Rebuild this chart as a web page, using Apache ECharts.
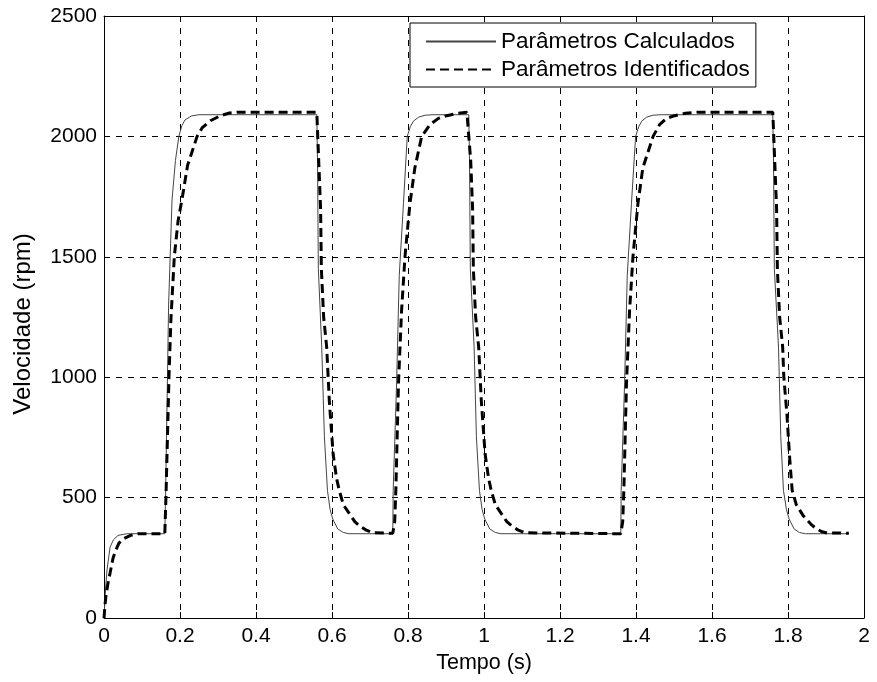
<!DOCTYPE html>
<html>
<head>
<meta charset="utf-8">
<script src="https://cdn.jsdelivr.net/npm/echarts@6/dist/echarts.min.js"></script>
<style>html,body{margin:0;padding:0;background:#fff;}#c{width:877px;height:682px;}</style>
</head>
<body>
<div id="c"></div>
<script>
const seriesNames = ['Parâmetros Calculados', 'Parâmetros Identificados'];
const xTicks = ['0','0.2','0.4','0.6','0.8','1','1.2','1.4','1.6','1.8','2'];
const yTicks = ['0','500','1000','1500','2000','2500'];

// Parâmetros Calculados [tempo (s), velocidade (rpm)]
const calculados = [
  [0,0],[0.004,120],[0.008,200],[0.016,295],[0.025,325],[0.037,343],[0.06,350],[0.16,350],
  [0.162,500],[0.167,1000],[0.170,1300],[0.179,1736],[0.188,1900],[0.197,2000],[0.205,2045],[0.213,2068],[0.23,2085],[0.25,2090],[0.56,2090],
  [0.562,1884],[0.564,1452],[0.573,1125],[0.580,753],[0.588,530],[0.595,450],[0.602,411],[0.615,370],[0.63,355],[0.645,350],[0.76,350],
  [0.761,530],[0.770,976],[0.777,1423],[0.788,1720],[0.798,2000],[0.806,2040],[0.814,2063],[0.828,2080],[0.845,2088],[0.866,2090],[0.96,2090],
  [0.962,1884],[0.964,1452],[0.974,1125],[0.980,753],[0.988,530],[0.995,450],[1.002,411],[1.015,370],[1.03,355],[1.045,350],[1.36,350],
  [1.361,530],[1.370,976],[1.377,1423],[1.388,1720],[1.399,2000],[1.407,2040],[1.415,2063],[1.428,2080],[1.445,2088],[1.466,2090],[1.76,2090],
  [1.762,1884],[1.764,1452],[1.775,1125],[1.781,753],[1.788,530],[1.796,450],[1.803,411],[1.816,370],[1.83,355],[1.846,350],[1.96,350]
];

// Parâmetros Identificados [tempo (s), velocidade (rpm)]
const identificados = [
  [0,0],[0.003,60],[0.005,90],[0.010,140],[0.016,187],[0.024,250],[0.032,285],[0.039,310],[0.05,328],[0.07,343],[0.09,350],[0.16,350],
  [0.163,500],[0.171,1000],[0.176,1237],[0.185,1500],[0.195,1650],[0.205,1736],[0.22,1880],[0.245,2000],[0.258,2035],[0.28,2065],[0.305,2085],[0.33,2097],[0.35,2100],[0.56,2100],
  [0.565,1900],[0.570,1700],[0.572,1450],[0.578,1250],[0.586,1125],[0.593,900],[0.603,680],[0.612,580],[0.619,530],[0.63,470],[0.643,440],[0.66,400],[0.674,381],[0.69,365],[0.708,354],[0.76,352],
  [0.765,400],[0.768,530],[0.775,976],[0.783,1274],[0.792,1500],[0.805,1720],[0.818,1869],[0.836,2000],[0.858,2049],[0.88,2075],[0.902,2086],[0.93,2096],[0.955,2100],[0.96,2100],
  [0.965,1900],[0.970,1700],[0.972,1450],[0.978,1250],[0.986,1125],[0.993,900],[1.003,680],[1.012,580],[1.019,530],[1.03,470],[1.043,440],[1.06,400],[1.074,381],[1.09,365],[1.108,354],[1.36,350],
  [1.365,400],[1.368,530],[1.375,976],[1.383,1274],[1.392,1500],[1.405,1720],[1.418,1869],[1.445,2000],[1.462,2049],[1.48,2075],[1.502,2086],[1.53,2096],[1.56,2100],[1.76,2100],
  [1.765,1900],[1.770,1700],[1.772,1450],[1.778,1250],[1.786,1125],[1.789,1000],[1.797,850],[1.805,650],[1.811,530],[1.822,470],[1.84,425],[1.86,390],[1.875,370],[1.89,358],[1.90,354],[1.96,352]
];

const FONT = 'Liberation Sans, Arial, Helvetica, sans-serif';
const chart = echarts.init(document.getElementById('c'), null, {renderer: 'canvas'});
const gridLine = {show: true, lineStyle: {color: '#000', width: 1, type: [6, 6]}};
chart.setOption({
  animation: false,
  backgroundColor: '#fff',
  grid: {left: 104, right: 13, top: 16, bottom: 64, containLabel: false},
  legend: {
    show: true,
    orient: 'vertical',
    left: 410, top: 23,
    backgroundColor: '#fff',
    borderColor: '#000', borderWidth: 1, borderRadius: 0,
    padding: [7, 6, 6, 15],
    itemGap: 5,
    itemWidth: 70, itemHeight: 20,
    itemStyle: {opacity: 0},
    textStyle: {fontFamily: FONT, fontSize: 22.5, color: '#000'},
    data: seriesNames
  },
  xAxis: [{
    type: 'value', min: 0, max: 2, interval: 0.2,
    axisLine: {show: true, onZero: false, lineStyle: {color: '#000', width: 1}},
    axisTick: {show: true, inside: true, length: 6, lineStyle: {color: '#000'}},
    axisLabel: {fontFamily: FONT, fontSize: 21, color: '#000', margin: 8,
      formatter: function (v) { return xTicks[Math.round(v / 0.2)]; }},
    splitLine: gridLine,
    name: 'Tempo (s)', nameLocation: 'middle', nameGap: 34,
    nameTextStyle: {fontFamily: FONT, fontSize: 21.5, color: '#000'}
  }, {
    type: 'value', min: 0, max: 2, interval: 0.2, position: 'top',
    axisLine: {show: true, onZero: false, lineStyle: {color: '#000', width: 1}},
    axisTick: {show: true, inside: true, length: 6, lineStyle: {color: '#000'}},
    axisLabel: {show: false}, splitLine: {show: false}
  }],
  yAxis: [{
    type: 'value', min: 0, max: 2500, interval: 500,
    axisLine: {show: true, onZero: false, lineStyle: {color: '#000', width: 1}},
    axisTick: {show: true, inside: true, length: 6, lineStyle: {color: '#000'}},
    axisLabel: {fontFamily: FONT, fontSize: 21, color: '#000', margin: 7,
      formatter: function (v) { return yTicks[Math.round(v / 500)]; }},
    splitLine: gridLine,
    name: 'Velocidade (rpm)', nameLocation: 'middle', nameGap: 69, nameRotate: 90,
    nameTextStyle: {fontFamily: FONT, fontSize: 24, color: '#000', padding: [0, 14, 0, 0]}
  }, {
    type: 'value', min: 0, max: 2500, interval: 500, position: 'right',
    axisLine: {show: true, onZero: false, lineStyle: {color: '#000', width: 1}},
    axisTick: {show: true, inside: true, length: 6, lineStyle: {color: '#000'}},
    axisLabel: {show: false}, splitLine: {show: false}
  }],
  series: [{
    name: seriesNames[0], type: 'line', data: calculados,
    showSymbol: false, symbol: 'none', smooth: false,
    lineStyle: {color: '#444', width: 1, type: 'solid'},
    itemStyle: {color: '#444'}, z: 3
  }, {
    name: seriesNames[1], type: 'line', data: identificados,
    showSymbol: false, symbol: 'none', smooth: false,
    lineStyle: {color: '#000', width: 3, type: [9, 5]},
    itemStyle: {color: '#000'}, z: 4
  }]
});
</script>
</body>
</html>
